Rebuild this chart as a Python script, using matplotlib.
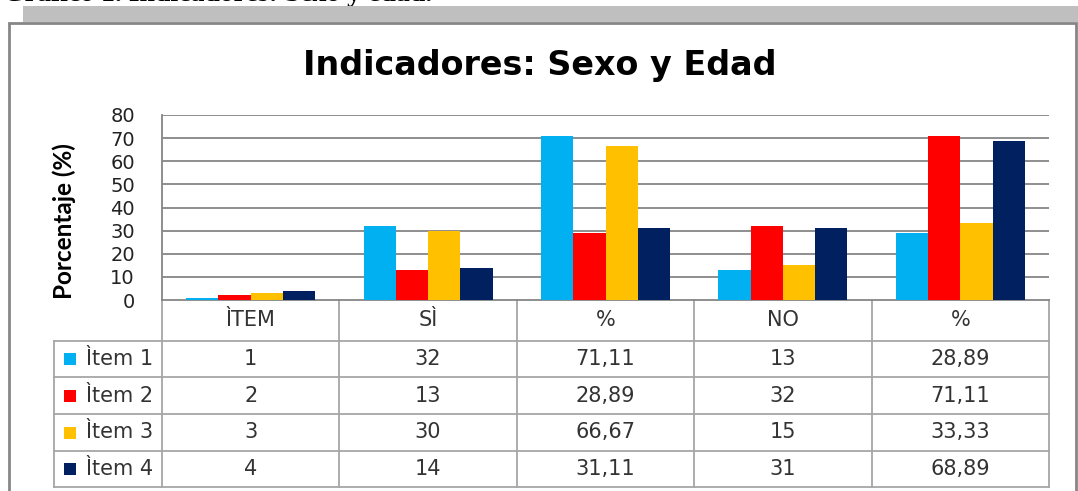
import numpy as np
import matplotlib
matplotlib.use("Agg")
import matplotlib.pyplot as plt
from matplotlib.transforms import blended_transform_factory
from matplotlib.patches import Rectangle

plt.rcParams['font.family'] = ['DejaVu Sans']

# data
categories = ['ÌTEM', 'SÌ', '%', 'NO', '%']
series_names = ['Ìtem 1', 'Ìtem 2', 'Ìtem 3', 'Ìtem 4']
item1 = [1, 32, 71.11, 13, 28.89]
item2 = [2, 13, 28.89, 32, 71.11]
item3 = [3, 30, 66.67, 15, 33.33]
item4 = [4, 14, 31.11, 31, 68.89]
series = [item1, item2, item3, item4]
colors = ['#00b0f0', '#ff0000', '#ffc000', '#002060']
yticks = [0, 10, 20, 30, 40, 50, 60, 70, 80]


def fmt(v):
    if float(v).is_integer():
        return '%d' % v
    return ('%.2f' % v).replace('.', ',')


W, H = 1078, 491
fig = plt.figure(figsize=(W / 100, H / 100), dpi=100)

# helpers: pixel -> figure fraction
def fx(px):
    return px / W

def fy(py):
    return 1 - py / H

# page decoration: caption cut at the top, gray band, chart frame
fig.text(fx(432), fy(1.2), 'Gráfico 1. Indicadores: Sexo y edad.', ha='right', va='baseline',
         fontsize=20, fontweight='bold', family=['Liberation Serif'], color='black', zorder=-5)
fig.patches.append(Rectangle((fx(23), fy(22)), 1 - fx(23), fy(6) - fy(22), transform=fig.transFigure,
                             facecolor='#bfbfbf', edgecolor='none', zorder=-3))
fig.patches.append(Rectangle((fx(9), fy(495)), fx(1076) - fx(9), fy(23) - fy(495), transform=fig.transFigure,
                             facecolor='white', edgecolor='#868686', linewidth=2, zorder=-2))

# plot area
left, right, top, bottom = 162, 1049, 115, 300
ax = fig.add_axes([fx(left), fy(bottom), fx(right) - fx(left), fy(top) - fy(bottom)])
ax.set_facecolor('none')

n = len(series)
x = np.arange(len(categories))
bw = 1 / 5.5
for i, vals in enumerate(series):
    ax.bar(x + (i - (n - 1) / 2) * bw, vals, width=bw, color=colors[i], zorder=3)

ax.set_xlim(-0.5, len(categories) - 0.5)
ax.set_ylim(0, 80)
ax.set_yticks(yticks)
ax.set_yticklabels([str(t) for t in yticks], fontsize=14, color='#222222')
ax.tick_params(axis='y', length=0, pad=19.5)
ax.set_xticks([])
for yv in yticks[1:]:
    ax.axhline(yv, color='#868686', lw=1.3, zorder=1)
for s in ['top', 'right']:
    ax.spines[s].set_visible(False)
ax.spines['left'].set_color('#868686')
ax.spines['left'].set_linewidth(1.3)
ax.spines['bottom'].set_color('#868686')
ax.spines['bottom'].set_linewidth(1.3)
ax.set_ylabel('Porcentaje (%)', fontsize=17.5, fontweight='bold', family=['Lato', 'DejaVu Sans'])
ax.yaxis.label.set_va('center')
ax.yaxis.set_label_coords((64 - left) / (right - left), (bottom - 221) / (bottom - top))

fig.text(fx(540), fy(65), 'Indicadores: Sexo y Edad', ha='center', va='center',
         fontsize=24, fontweight='bold', color='black')

# data table under the chart
tr = blended_transform_factory(ax.transData, fig.transFigure)
row_y = [300, 341, 377, 414, 451, 487]
line_c = '#a6a6a6'
tcol = '#333333'
# column borders
for b in np.arange(len(categories) + 1) - 0.5:
    ax.plot([b, b], [fy(row_y[0]), fy(row_y[-1])], transform=tr, color=line_c, lw=1.3, clip_on=False)
# legend column border
ax.plot([fx(54), fx(54)], [fy(row_y[1]), fy(row_y[-1])], transform=fig.transFigure,
        color=line_c, lw=1.3, clip_on=False)
for r in row_y[1:]:
    ax.plot([fx(54), fx(right)], [fy(r), fy(r)], transform=fig.transFigure, color=line_c, lw=1.3,
            clip_on=False)

for j, cat in enumerate(categories):
    ax.text(x[j], fy((row_y[0] + row_y[1]) / 2), cat, transform=tr, ha='center', va='center',
            fontsize=15, color=tcol)
for i, vals in enumerate(series):
    yc = fy((row_y[i + 1] + row_y[i + 2]) / 2)
    fig.patches.append(Rectangle((fx(64), yc - 6 / H), 12 / W, 12 / H, transform=fig.transFigure,
                                 facecolor=colors[i], edgecolor='none', zorder=5))
    fig.text(fx(86), yc, series_names[i], ha='left', va='center', fontsize=15, color=tcol)
    for j, v in enumerate(vals):
        ax.text(x[j], yc, fmt(v), transform=tr, ha='center', va='center', fontsize=15, color=tcol)

fig.savefig('out.png', dpi=100)
